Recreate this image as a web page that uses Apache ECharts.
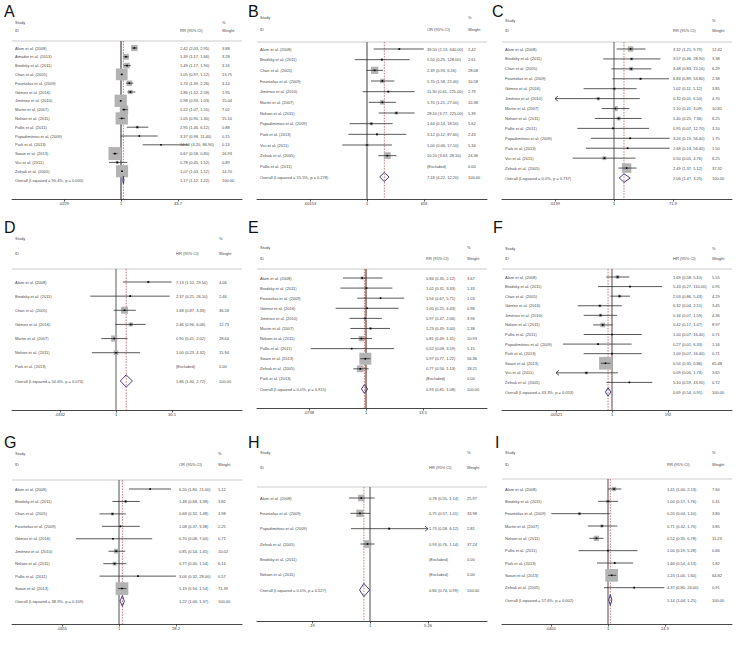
<!DOCTYPE html>
<html><head><meta charset="utf-8">
<script src="https://cdn.jsdelivr.net/npm/echarts@6/dist/echarts.min.js"></script>
<style>html,body{margin:0;padding:0;background:#fff}#c{width:740px;height:648px}</style>
</head><body><div id="c"></div>
<script>
// ---------------- DATA ----------------
// Panel A
const studiesA = ['Alam et al. (2008)','Amador et al. (2013)','Brodsky et al. (2011)','Chan et al. (2005)','Fountzilas et al. (2009)','Gómez et al. (2016)','Jiménez et al. (2010)','Martin et al. (2007)','Nelson et al. (2011)','Pallis et al. (2011)','Papadimitriou et al. (2009)','Park et al. (2013)','Swain et al. (2013)','Vici et al. (2011)','Zelnak et al. (2005)'];
const esA = [2.42,1.39,1.49,1.05,1.74,1.86,0.98,1.22,1.05,2.95,3.37,14.10,0.67,0.78,1.07];
const loA = [2.03,1.17,1.17,0.97,1.39,1.52,0.93,1.07,0.90,1.46,0.98,4.20,0.58,0.45,1.03];
const hiA = [2.95,1.66,1.90,1.12,2.26,2.59,1.03,1.55,1.30,6.12,11.40,86.90,0.80,1.52,1.12];
const wA  = [3.88,3.28,3.16,13.75,3.14,1.95,15.04,7.02,15.10,0.88,0.15,0.13,16.93,0.89,14.70];
const overallA = [1.17,1.12,1.22];
const overallLabelA = 'Overall (I-squared = 90.4%, p = 0.000)';
const measureA = 'RR (95% CI)';
const tickLabelsA = ['.0229','1','43.7'];
const tickValsA = [0.0229,1,43.7];

// Panel B
const studiesB = ['Alam et al. (2008)','Brodsky et al. (2011)','Chan et al. (2005)','Fountzilas et al. (2009)','Jiménez et al. (2010)','Martin et al. (2007)','Nelson et al. (2011)','Papadimitriou et al. (2009)','Park et al. (2013)','Vici et al. (2011)','Zelnak et al. (2005)','Pallis et al. (2011)'];
const esB = [39.50,5.50,2.39,5.70,11.30,5.70,28.10,1.64,3.12,1.00,10.10,null];
const loB = [2.13,0.25,0.93,1.58,0.61,1.21,3.77,0.14,0.12,0.06,3.63,null];
const hiB = [640.00,128.00,6.16,22.40,225.00,27.00,225.00,18.50,87.60,17.10,28.10,null];
const wB  = [2.42,2.61,28.08,10.58,2.79,10.38,5.39,5.62,2.43,5.34,24.36,0.00];
const overallB = [7.18,4.22,12.20];
const overallLabelB = 'Overall (I-squared = 15.5%, p = 0.278)';
const measureB = 'OR (95% CI)';
const tickLabelsB = ['.00153','1','653'];
const tickValsB = [0.00153,1,653];

// Panel C
const studiesC = ['Alam et al. (2008)','Brodsky et al. (2011)','Chan et al. (2005)','Fountzilas et al. (2009)','Gómez et al. (2016)','Jiménez et al. (2010)','Martin et al. (2007)','Nelson et al. (2011)','Pallis et al. (2011)','Papadimitriou et al. (2009)','Park et al. (2013)','Vici et al. (2011)','Zelnak et al. (2005)'];
const esC = [3.32,3.57,3.48,6.84,1.02,0.32,1.10,1.40,0.95,3.24,2.68,0.50,2.49];
const loC = [1.21,0.46,0.83,0.89,0.11,0.01,0.41,0.25,0.07,0.19,0.13,0.05,1.37];
const hiC = [9.79,28.90,15.10,53.80,5.12,6.50,3.09,7.36,12.70,56.40,56.40,4.76,5.12];
const wC  = [12.42,3.38,6.29,2.38,3.85,4.70,10.81,6.25,3.10,1.75,1.50,6.25,37.32];
const overallC = [2.06,1.47,3.25];
const overallLabelC = 'Overall (I-squared = 0.0%, p = 0.737)';
const measureC = 'RR (95% CI)';
const tickLabelsC = ['.0139','1','71.9'];
const tickValsC = [0.0139,1,71.9];

// Panel D
const studiesD = ['Alam et al. (2008)','Brodsky et al. (2011)','Chan et al. (2005)','Gómez et al. (2016)','Martin et al. (2007)','Nelson et al. (2011)','Park et al. (2013)'];
const esD = [7.13,2.37,1.68,2.46,0.90,1.00,null];
const loD = [1.52,0.21,0.87,0.96,0.41,0.23,null];
const hiD = [29.50,26.10,3.33,6.06,2.02,4.32,null];
const wD  = [4.06,2.46,36.18,12.73,28.64,15.94,0.00];
const overallD = [1.86,1.30,2.72];
const overallLabelD = 'Overall (I-squared = 50.6%, p = 0.074)';
const measureD = 'HR (95% CI)';
const tickLabelsD = ['.0332','1','30.1'];
const tickValsD = [0.0332,1,30.1];

// Panel E
const studiesE = ['Alam et al. (2008)','Brodsky et al. (2011)','Fountzilas et al. (2009)','Gómez et al. (2016)','Jiménez et al. (2010)','Martin et al. (2007)','Nelson et al. (2011)','Pallis et al. (2011)','Swain et al. (2013)','Zelnak et al. (2005)','Park et al. (2013)'];
const esE = [0.84,1.02,1.94,1.05,0.97,1.23,0.81,0.52,0.97,0.77,null];
const loE = [0.35,0.31,0.67,0.25,0.47,0.49,0.49,0.08,0.77,0.56,null];
const hiE = [2.12,3.33,5.71,4.43,2.06,3.00,1.31,3.59,1.22,1.13,null];
const wE  = [3.67,1.33,1.03,0.98,3.96,2.38,10.93,1.15,56.36,18.21,0.00];
const overallE = [0.93,0.81,1.08];
const overallLabelE = 'Overall (I-squared = 0.0%, p = 0.915)';
const measureE = 'RR (95% CI)';
const tickLabelsE = ['.0738','1','13.5'];
const tickValsE = [0.0738,1,13.5];

// Panel F
const studiesF = ['Alam et al. (2008)','Brodsky et al. (2011)','Chan et al. (2005)','Gómez et al. (2016)','Jiménez et al. (2010)','Nelson et al. (2011)','Pallis et al. (2011)','Papadimitriou et al. (2009)','Park et al. (2013)','Swain et al. (2013)','Vici et al. (2011)','Zelnak et al. (2005)'];
const esF = [1.69,5.43,2.03,0.32,0.34,0.42,1.00,0.27,1.00,0.54,0.09,5.10];
const loF = [0.58,0.27,0.86,0.04,0.07,0.17,0.07,0.01,0.07,0.35,0.003,0.59];
const hiF = [5.10,110.00,5.43,2.51,1.59,1.07,16.40,6.33,16.40,0.86,1.74,43.90];
const wF  = [5.55,0.95,4.29,3.45,4.36,8.97,0.71,1.16,0.71,65.48,3.65,0.72];
const overallF = [0.69,0.54,0.91];
const overallLabelF = 'Overall (I-squared = 43.3%, p = 0.053)';
const measureF = 'HR (95% CI)';
const tickLabelsF = ['.00521','1','192'];
const tickValsF = [0.00521,1,192];

// Panel G
const studiesG = ['Alam et al. (2008)','Brodsky et al. (2011)','Chan et al. (2005)','Fountzilas et al. (2009)','Gómez et al. (2016)','Jiménez et al. (2010)','Nelson et al. (2011)','Pallis et al. (2011)','Swain et al. (2013)'];
const esG = [6.20,1.48,0.68,1.08,0.70,0.85,0.77,3.06,1.19];
const loG = [1.80,0.68,0.32,0.37,0.08,0.54,0.40,0.32,0.94];
const hiG = [21.00,3.38,1.48,3.38,7.00,1.45,1.54,28.00,1.54];
const wG  = [1.12,3.82,3.98,2.25,0.71,10.02,6.14,0.57,71.39];
const overallG = [1.22,1.06,1.37];
const overallLabelG = 'Overall (I-squared = 38.9%, p = 0.109)';
const measureG = 'OR (95% CI)';
const tickLabelsG = ['.0355','1','28.2'];
const tickValsG = [0.0355,1,28.2];

// Panel H
const studiesH = ['Alam et al. (2008)','Fountzilas et al. (2009)','Papadimitriou et al. (2009)','Zelnak et al. (2005)','Brodsky et al. (2011)','Nelson et al. (2011)'];
const esH = [0.78,0.75,1.73,0.93,null,null];
const loH = [0.55,0.57,0.58,0.76,null,null];
const hiH = [1.14,1.01,6.12,1.14,null,null];
const wH  = [25.97,33.98,2.81,37.24,0.00,0.00];
const overallH = [0.84,0.74,0.99];
const overallLabelH = 'Overall (I-squared = 0.0%, p = 0.527)';
const measureH = 'HR (95% CI)';
const tickLabelsH = ['.19','1','5.26'];
const tickValsH = [0.19,1,5.26];

// Panel I
const studiesI = ['Alam et al. (2008)','Brodsky et al. (2011)','Fountzilas et al. (2009)','Martin et al. (2007)','Nelson et al. (2011)','Pallis et al. (2011)','Park et al. (2013)','Swain et al. (2013)','Zelnak et al. (2005)'];
const esI = [1.41,1.00,0.20,0.71,0.52,1.00,1.46,1.23,4.37];
const loI = [1.00,0.57,0.041,0.32,0.35,0.19,0.54,1.00,0.80];
const hiI = [2.13,1.76,1.10,1.70,0.78,5.28,4.13,1.60,24.00];
const wI  = [7.60,5.31,3.80,3.85,11.23,0.66,1.82,64.82,0.91];
const overallI = [1.14,1.04,1.25];
const overallLabelI = 'Overall (I-squared = 57.6%, p = 0.002)';
const measureI = 'RR (95% CI)';
const tickLabelsI = ['.0401','1','24.9'];
const tickValsI = [0.0401,1,24.9];

// ---------------- LAYOUT (pixels) ----------------
const layouts = {
  A:{L:12,R:242,t0:121,t2:178,axisY:199,hdr:41,study:22,id:30,first:48,overall:180,esX:180,wX:222,maxSide:13,letter:[4,3],clip:false,nullColor:'#222',nullW:1},
  B:{L:257,R:487,t0:367,t2:424,axisY:199,hdr:42,study:17,id:29,first:49,overall:177,esX:427,wX:468,maxSide:7.3,letter:[248,3],clip:true,nullColor:'#a0a0a0',nullW:2},
  C:{L:502,R:732,t0:614,t2:673,axisY:199,hdr:42,study:20,id:30,first:49,overall:178,esX:673,wX:712,maxSide:9.5,letter:[492,3],clip:true,nullColor:'#333',nullW:0.8},
  D:{L:12,R:242,t0:116,t2:172,axisY:410,hdr:269,study:238,id:253,first:282,overall:381,esX:176,wX:219,maxSide:7,letter:[4,219],clip:true,nullColor:'#333',nullW:0.8},
  E:{L:257,R:487,t0:366,t2:423,axisY:408,hdr:269,study:247,id:258,first:278,overall:389,esX:426,wX:467,maxSide:12,letter:[248,219],clip:true,nullColor:'#6a3a30',nullW:1.2},
  F:{L:502,R:732,t0:612,t2:668,axisY:410,hdr:269,study:248,id:258,first:277,overall:392,esX:673,wX:712,maxSide:12.7,letter:[493,219],clip:true,nullColor:'#222',nullW:0.8},
  G:{L:12,R:242,t0:119,t2:176,axisY:624,hdr:480,study:453,id:464,first:489,overall:601,esX:179,wX:218,maxSide:12.7,letter:[4,434],clip:true,nullColor:'#222',nullW:0.8},
  H:{L:257,R:487,t0:370,t2:428,axisY:621,hdr:487,study:452,id:467,first:498,overall:590,esX:429,wX:467,maxSide:7.7,letter:[248,434],clip:true,nullColor:'#222',nullW:0.8},
  I:{L:502,R:732,t0:608,t2:665,axisY:624,hdr:479,study:452,id:464,first:489,overall:600,esX:667,wX:712,maxSide:12.7,letter:[495,434],clip:true,nullColor:'#222',nullW:0.8}
};

const panels = [
  {name:'A',studies:studiesA,es:esA,lo:loA,hi:hiA,w:wA,overall:overallA,overallLabel:overallLabelA,measure:measureA,tickLabels:tickLabelsA,tickVals:tickValsA},
  {name:'B',studies:studiesB,es:esB,lo:loB,hi:hiB,w:wB,overall:overallB,overallLabel:overallLabelB,measure:measureB,tickLabels:tickLabelsB,tickVals:tickValsB},
  {name:'C',studies:studiesC,es:esC,lo:loC,hi:hiC,w:wC,overall:overallC,overallLabel:overallLabelC,measure:measureC,tickLabels:tickLabelsC,tickVals:tickValsC},
  {name:'D',studies:studiesD,es:esD,lo:loD,hi:hiD,w:wD,overall:overallD,overallLabel:overallLabelD,measure:measureD,tickLabels:tickLabelsD,tickVals:tickValsD},
  {name:'E',studies:studiesE,es:esE,lo:loE,hi:hiE,w:wE,overall:overallE,overallLabel:overallLabelE,measure:measureE,tickLabels:tickLabelsE,tickVals:tickValsE},
  {name:'F',studies:studiesF,es:esF,lo:loF,hi:hiF,w:wF,overall:overallF,overallLabel:overallLabelF,measure:measureF,tickLabels:tickLabelsF,tickVals:tickValsF},
  {name:'G',studies:studiesG,es:esG,lo:loG,hi:hiG,w:wG,overall:overallG,overallLabel:overallLabelG,measure:measureG,tickLabels:tickLabelsG,tickVals:tickValsG},
  {name:'H',studies:studiesH,es:esH,lo:loH,hi:hiH,w:wH,overall:overallH,overallLabel:overallLabelH,measure:measureH,tickLabels:tickLabelsH,tickVals:tickValsH},
  {name:'I',studies:studiesI,es:esI,lo:loI,hi:hiI,w:wI,overall:overallI,overallLabel:overallLabelI,measure:measureI,tickLabels:tickLabelsI,tickVals:tickValsI}
];

// ---------------- RENDER ----------------
const FONT = 'Liberation Sans, Arial, sans-serif';
const TXT = '#4a4a4a';
const fmt = v => v.toFixed(2);

function txt(s, x, y, size, color) {
  return {type:'text', z2:6, silent:true, style:{text:s, x:x, y:y, fontSize:size||4, fontFamily:FONT, fill:color||TXT,
    textAlign:'left', align:'left', textVerticalAlign:'middle', verticalAlign:'middle'}};
}

function makeRender(p) {
  const lay = layouts[p.name];
  const n = p.studies.length;
  const maxW = Math.max.apply(null, p.w);
  const sp = (lay.overall - lay.first) / n;
  return function (params, api) {
    const idx = params.dataIndex;
    const cs = params.coordSys;
    const X = v => api.coord([Math.log10(v), 0])[0];
    const Y = r => api.coord([0, r])[1];
    const textX = lay.L + 3;
    const ch = [];
    if (idx === 0) {
      ch.push(txt('Study', textX, lay.study));
      ch.push(txt('ID', textX, lay.id));
      ch.push(txt(p.measure, lay.esX, lay.id));
      ch.push(txt('%', lay.wX, lay.study));
      ch.push(txt('Weight', lay.wX, lay.id));
      ch.push({type:'line', z2:0, shape:{x1:cs.x, y1:cs.y, x2:cs.x + cs.width, y2:cs.y}, style:{stroke:'#dcdcdc', lineWidth:1.6}});
      const x1 = X(1);
      ch.push({type:'line', z2:1, shape:{x1:x1, y1:cs.y, x2:x1, y2:cs.y + cs.height}, style:{stroke:lay.nullColor, lineWidth:lay.nullW}});
      const xo = X(p.overall[0]);
      ch.push({type:'line', z2:1, shape:{x1:xo, y1:cs.y, x2:xo, y2:cs.y + cs.height}, style:{stroke:'#c85a5a', lineWidth:0.8, lineDash:[1.6,1.2]}});
    } else if (idx <= n) {
      const i = idx - 1;
      const y = Y(i);
      ch.push(txt(p.studies[i], textX, y));
      ch.push(txt(fmt(p.w[i]), lay.wX, y));
      if (p.es[i] == null) {
        ch.push(txt('(Excluded)', lay.esX, y));
      } else {
        ch.push(txt(fmt(p.es[i]) + ' (' + fmt(p.lo[i]) + ', ' + fmt(p.hi[i]) + ')', lay.esX, y));
        const cLo = lay.clip ? p.tickVals[0] : 1e-12;
        const cHi = lay.clip ? p.tickVals[2] : 1e12;
        const loC = Math.max(p.lo[i], cLo), hiC = Math.min(p.hi[i], cHi);
        const xl = X(loC), xh = X(hiC), xe = X(p.es[i]);
        const side = lay.maxSide * Math.sqrt(p.w[i] / maxW);
        ch.push({type:'rect', z2:2, shape:{x:xe - side/2, y:y - side/2, width:side, height:side}, style:{fill:'#b3b3b3'}});
        ch.push({type:'line', z2:3, shape:{x1:xl, y1:y, x2:xh, y2:y}, style:{stroke:'#2e2e2e', lineWidth:0.8}});
        if (p.lo[i] < cLo) ch.push({type:'polyline', z2:3, shape:{points:[[xl+3,y-2.6],[xl,y],[xl+3,y+2.6]]}, style:{stroke:'#2e2e2e', lineWidth:0.8, fill:'none'}});
        if (p.hi[i] > cHi) ch.push({type:'polyline', z2:3, shape:{points:[[xh-3,y-2.6],[xh,y],[xh-3,y+2.6]]}, style:{stroke:'#2e2e2e', lineWidth:0.8, fill:'none'}});
        ch.push({type:'rect', z2:4, shape:{x:xe - 0.8, y:y - 0.8, width:1.6, height:1.6}, style:{fill:'#000'}});
      }
    } else {
      const y = Y(n);
      ch.push(txt(p.overallLabel, textX, y));
      ch.push(txt(fmt(p.overall[0]) + ' (' + fmt(p.overall[1]) + ', ' + fmt(p.overall[2]) + ')', lay.esX, y));
      ch.push(txt('100.00', lay.wX, y));
      const h = 0.43 * sp;
      const xe = X(p.overall[0]), xl = X(p.overall[1]), xh = X(p.overall[2]);
      ch.push({type:'polygon', z2:4, shape:{points:[[xl,y],[xe,y-h],[xh,y],[xe,y+h]]}, style:{fill:'none', stroke:'#2b2b7e', lineWidth:0.9}});
    }
    return {type:'group', children:ch};
  };
}

const grids = [], xAxes = [], yAxes = [], series = [], graphics = [];
panels.forEach((p, gi) => {
  const lay = layouts[p.name];
  const n = p.studies.length;
  const sp = (lay.overall - lay.first) / n;
  const k = Math.log10(p.tickVals[2]) / (lay.t2 - lay.t0);
  const tickLog = p.tickVals.map(v => Math.log10(v));
  grids.push({left:lay.L, top:lay.hdr, width:lay.R - lay.L, height:lay.axisY - lay.hdr, containLabel:false});
  xAxes.push({
    gridIndex:gi, type:'value', position:'bottom',
    min:-(lay.t0 - lay.L) * k, max:(lay.R - lay.t0) * k,
    axisLine:{show:true, onZero:false, lineStyle:{color:'#333', width:0.9}},
    axisTick:{show:true, length:2.5, customValues:tickLog, lineStyle:{color:'#333', width:0.8}},
    axisLabel:{show:true, customValues:tickLog, fontSize:4, margin:2.5, color:'#333', fontFamily:FONT,
      formatter:function (v) {
        let best = 0, bd = Infinity;
        tickLog.forEach((t, j) => { const d = Math.abs(t - v); if (d < bd) { bd = d; best = j; } });
        return p.tickLabels[best];
      }},
    splitLine:{show:false}
  });
  yAxes.push({gridIndex:gi, type:'value', inverse:true, show:false,
    axisLine:{onZero:false},
    min:-(lay.first - lay.hdr) / sp, max:n + (lay.axisY - lay.overall) / sp, splitLine:{show:false}});
  const data = [[0, 0]];
  p.studies.forEach((s, i) => data.push([p.es[i] == null ? 0 : Math.log10(p.es[i]), i]));
  data.push([Math.log10(p.overall[0]), n]);
  series.push({type:'custom', xAxisIndex:gi, yAxisIndex:gi, clip:false, silent:true, animation:false,
    encode:{x:0, y:1}, data:data, renderItem:makeRender(p)});
  graphics.push({type:'text', left:lay.letter[0], top:lay.letter[1],
    style:{text:p.name, fontSize:16, fontFamily:FONT, fill:'#111'}});
});

const chart = echarts.init(document.getElementById('c'), null, {renderer:'svg'});
chart.setOption({
  backgroundColor:'#fff', animation:false,
  grid:grids, xAxis:xAxes, yAxis:yAxes, series:series, graphic:graphics
});
</script>
</body></html>
